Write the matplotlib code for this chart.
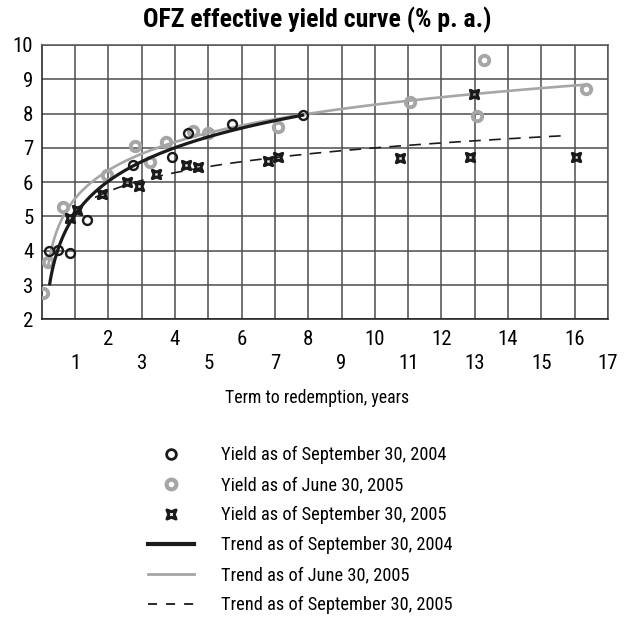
import numpy as np
import matplotlib
matplotlib.use('Agg')
import matplotlib.pyplot as plt
from matplotlib import font_manager
from matplotlib.path import Path
from matplotlib.lines import Line2D

# narrow face if present, else plain Roboto
names = {f.name for f in font_manager.fontManager.ttflist}
FONT = 'Roboto Condensed' if 'Roboto Condensed' in names else 'Roboto'
plt.rcParams['font.family'] = [FONT, 'DejaVu Sans']

# Yield as of September 30, 2004 (term in years, yield %)
sep04_term = [0.22, 0.48, 0.85, 1.35, 2.73, 3.9, 4.4, 5.7, 7.83]
sep04_yield = [4.0, 4.02, 3.92, 4.9, 6.5, 6.74, 7.44, 7.7, 7.96]

# Yield as of June 30, 2005
jun05_term = [0.05, 0.18, 0.65, 1.95, 2.8, 3.25, 3.73, 4.53, 5.0, 7.1,
              11.07, 13.07, 13.27, 16.33]
jun05_yield = [2.76, 3.68, 5.28, 6.21, 7.06, 6.6, 7.16, 7.5, 7.43, 7.62,
               8.35, 7.93, 9.56, 8.71]

# Yield as of September 30, 2005
sep05_term = [0.85, 1.05, 1.8, 2.55, 2.93, 3.43, 4.33, 4.7, 6.8, 7.1,
              10.75, 12.87, 12.97, 16.03]
sep05_yield = [4.95, 5.2, 5.65, 6.0, 5.89, 6.25, 6.5, 6.45, 6.63, 6.73,
               6.7, 6.73, 8.57, 6.73]

# logarithmic trends: yield = a + b*ln(term), drawn from x_start to x_end
trend_sep04 = (5.05, 1.41, 0.24, 7.83)
trend_jun05 = (5.52, 1.19, 0.19, 16.3)
trend_sep05 = (5.183, 0.789, 1.6, 15.8)

labels = ['Yield as of September 30, 2004', 'Yield as of June 30, 2005',
          'Yield as of September 30, 2005', 'Trend as of September 30, 2004',
          'Trend as of June 30, 2005', 'Trend as of September 30, 2005']

BLACK = '#1a1a1a'
GRAY = '#a6a6a6'

# four-pointed star marker (concave square)
star = Path([(-1, -1), (0, -0.6), (1, -1), (0.6, 0), (1, 1), (0, 0.6),
             (-1, 1), (-0.6, 0), (-1, -1)],
            [Path.MOVETO] + [Path.LINETO] * 7 + [Path.CLOSEPOLY])


def trend(p):
    a, b, x0, x1 = p
    x = np.linspace(x0, x1, 200)
    return x, a + b * np.log(x)


fig = plt.figure(figsize=(6.34, 6.19), dpi=100)
ax = fig.add_axes([41.7 / 634, 1 - 319.3 / 619, (608 - 41.7) / 634, (319.3 - 45) / 619])

ax.plot(jun05_term, jun05_yield, 'o', ms=6.8, mfc='none', mec=GRAY, mew=2.8, zorder=3)
x, y = trend(trend_jun05)
ax.plot(x, y, color=GRAY, lw=1.9, zorder=4)
x, y = trend(trend_sep04)
ax.plot(x, y, color=BLACK, lw=2.3, zorder=4)
x, y = trend(trend_sep05)
ax.plot(x, y, color=BLACK, lw=1.2, dashes=(7, 5), zorder=4)
ax.plot(sep04_term, sep04_yield, 'o', ms=6.4, mfc='none', mec=BLACK, mew=1.7, zorder=5)
ax.plot(sep05_term, sep05_yield, ls='none', marker=star, ms=6, mfc='none',
        mec=BLACK, mew=2.2, zorder=5)

ax.set_xlim(0, 17)
ax.set_ylim(2, 10)
ax.set_xticks(range(1, 18, 2))
ax.set_xticks(range(2, 17, 2), minor=True)
ax.set_xticklabels([str(i) for i in range(1, 18, 2)])
ax.set_xticklabels([str(i) for i in range(2, 17, 2)], minor=True)
ax.set_yticks(range(2, 11))
ax.tick_params(axis='x', which='major', length=0, pad=25, labelsize=15)
ax.tick_params(axis='x', which='minor', length=0, pad=8, labelsize=15)
ax.tick_params(axis='y', length=0, pad=6, labelsize=15)
ax.grid(True, which='both', color='#4d4d4d', lw=1.1)
ax.set_axisbelow(True)
for s in ax.spines.values():
    s.set_color('#555555')
    s.set_linewidth(1.1)
ax.spines['left'].set_color(BLACK)
ax.spines['bottom'].set_color(BLACK)

fig.text(0.5, 1 - 20 / 619, 'OFZ effective yield curve (% p. a.)', ha='center',
         va='center', fontsize=18.5, fontweight='bold')
fig.text(317 / 634, 1 - 398 / 619, 'Term to redemption, years', ha='center',
         va='center', fontsize=12.8)

handles = [
    Line2D([], [], ls='none', marker='o', ms=7, mfc='none', mec=BLACK, mew=2),
    Line2D([], [], ls='none', marker='o', ms=7, mfc='none', mec=GRAY, mew=3),
    Line2D([], [], ls='none', marker=star, ms=6.5, mfc='none', mec=BLACK, mew=2.2),
    Line2D([], [], color=BLACK, lw=3),
    Line2D([], [], color=GRAY, lw=2),
    Line2D([], [], color=BLACK, lw=1.3, dashes=(5, 5)),
]
fig.legend(handles, labels, loc='upper left', bbox_to_anchor=(141 / 634, 1 - 439 / 619),
           frameon=False, fontsize=13.2, handlelength=2.5, handletextpad=1.45,
           labelspacing=0.65, borderaxespad=0)

fig.savefig('out.png', dpi=100)
